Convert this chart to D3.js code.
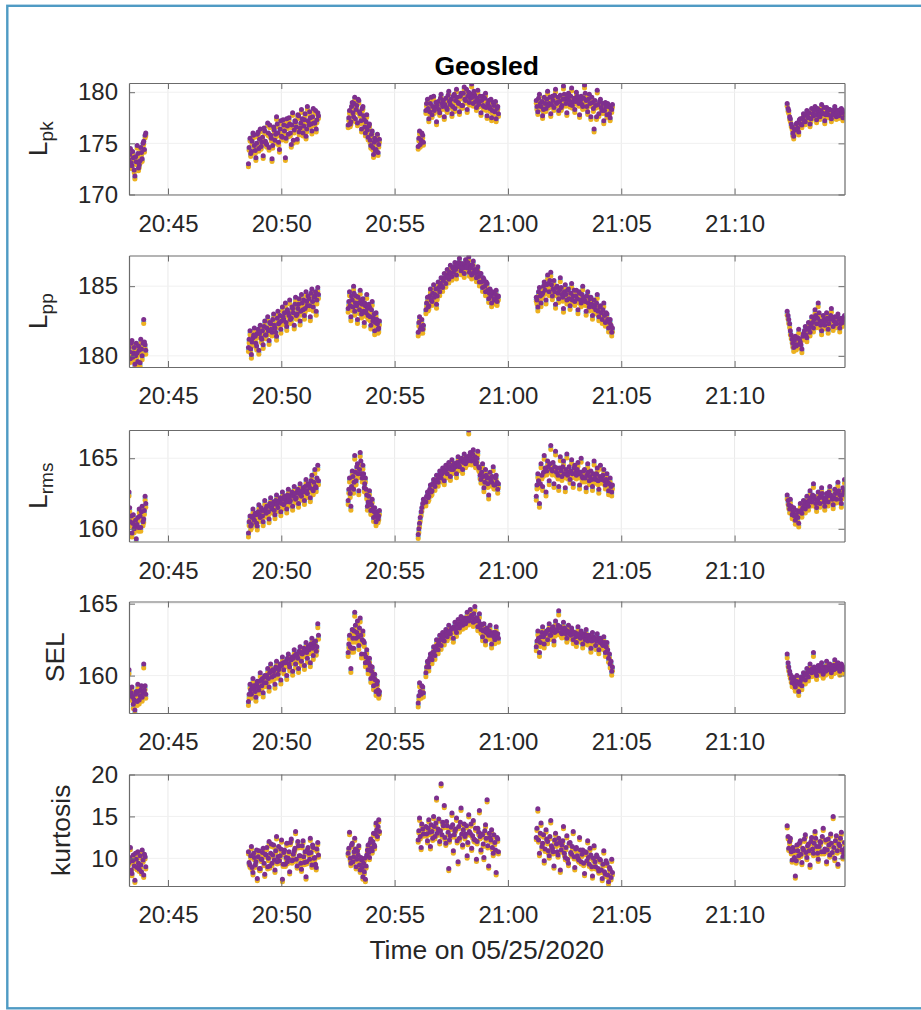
<!DOCTYPE html>
<html>
<head>
<meta charset="utf-8">
<script src="https://cdn.jsdelivr.net/npm/d3@7"></script>
<style>
  body { margin: 0; background: #fff; }
  svg { display: block; font-family: 'Liberation Sans', Arial, Helvetica, sans-serif; }
</style>
</head>
<body>
<div id="chart"></div>
<script>
// sample times, minutes after 20:00 on 05/25/2020
// each recording is listed twice: first the even samples, then the odd ones
const sampleMinutes = [
  43.28, 43.34, 43.41, 43.47, 43.54, 43.60, 43.67, 43.73, 43.80, 43.86, 43.93, 43.99,
  48.55, 48.62, 48.68, 48.75, 48.81, 48.88, 48.94, 49.01, 49.07, 49.14, 49.20, 49.27,
  49.33, 49.40, 49.46, 49.53, 49.59, 49.66, 49.72, 49.79, 49.85, 49.92, 49.98, 50.05,
  50.11, 50.18, 50.24, 50.31, 50.37, 50.44, 50.50, 50.57, 50.63, 50.70, 50.76, 50.83,
  50.89, 50.96, 51.02, 51.09, 51.15, 51.22, 51.28, 51.35, 51.41, 51.48, 51.54, 51.61,
  52.95, 53.01, 53.07, 53.13, 53.19, 53.24, 53.30, 53.36, 53.42, 53.48, 53.54, 53.60,
  53.66, 53.71, 53.77, 53.83, 53.89, 53.95, 54.01, 54.07, 54.12, 54.18, 54.24, 54.30,
  56.04, 56.10, 56.17, 56.24,
  56.38, 56.45, 56.51, 56.58, 56.65, 56.72, 56.78, 56.85, 56.92, 56.99, 57.05, 57.12,
  57.19, 57.26, 57.32, 57.39, 57.46, 57.53, 57.59, 57.66, 57.73, 57.80, 57.86, 57.93,
  58.00, 58.07, 58.13, 58.20, 58.27, 58.34, 58.40, 58.47, 58.54, 58.61, 58.67, 58.74,
  58.81, 58.88, 58.94, 59.01, 59.08, 59.15, 59.21, 59.28, 59.35, 59.42, 59.48, 59.55,
  61.25, 61.32, 61.39, 61.46, 61.53, 61.60, 61.68, 61.75, 61.82, 61.89, 61.96, 62.03,
  62.10, 62.17, 62.24, 62.31, 62.38, 62.45, 62.53, 62.60, 62.67, 62.74, 62.81, 62.88,
  62.95, 63.02, 63.09, 63.16, 63.23, 63.30, 63.38, 63.45, 63.52, 63.59, 63.66, 63.73,
  63.80, 63.87, 63.94, 64.01, 64.08, 64.16, 64.23, 64.30, 64.37, 64.44, 64.51, 64.58,
  72.32, 72.39, 72.46, 72.54, 72.61, 72.68, 72.75, 72.83, 72.90, 72.97, 73.04, 73.12,
  73.19, 73.26, 73.33, 73.40, 73.48, 73.55, 73.62, 73.69, 73.77, 73.84, 73.91, 73.98,
  74.06, 74.13, 74.20, 74.27, 74.35, 74.42, 74.49, 74.56, 74.64, 74.71, 74.78, 74.85,
  // odd samples
  43.31, 43.38, 43.44, 43.51, 43.57, 43.64, 43.70, 43.77, 43.83, 43.90, 43.96, 44.02,
  48.58, 48.65, 48.71, 48.78, 48.85, 48.91, 48.98, 49.04, 49.11, 49.17, 49.24, 49.30,
  49.36, 49.43, 49.49, 49.56, 49.62, 49.69, 49.75, 49.82, 49.88, 49.95, 50.01, 50.08,
  50.14, 50.21, 50.27, 50.34, 50.40, 50.47, 50.53, 50.60, 50.66, 50.73, 50.79, 50.86,
  50.92, 50.99, 51.05, 51.12, 51.18, 51.25, 51.31, 51.38, 51.44, 51.51, 51.57, 51.64,
  52.98, 53.04, 53.10, 53.16, 53.21, 53.27, 53.33, 53.39, 53.45, 53.51, 53.57, 53.63,
  53.68, 53.74, 53.80, 53.86, 53.92, 53.98, 54.04, 54.10, 54.15, 54.21, 54.27, 54.33,
  56.07, 56.13, 56.20, 56.27,
  56.41, 56.48, 56.55, 56.61, 56.68, 56.75, 56.82, 56.88, 56.95, 57.02, 57.09, 57.15,
  57.22, 57.29, 57.36, 57.42, 57.49, 57.56, 57.63, 57.69, 57.76, 57.83, 57.90, 57.96,
  58.03, 58.10, 58.17, 58.23, 58.30, 58.37, 58.44, 58.50, 58.57, 58.64, 58.71, 58.77,
  58.84, 58.91, 58.98, 59.04, 59.11, 59.18, 59.25, 59.31, 59.38, 59.45, 59.52, 59.58,
  61.28, 61.35, 61.43, 61.50, 61.57, 61.64, 61.71, 61.78, 61.85, 61.92, 61.99, 62.06,
  62.14, 62.21, 62.28, 62.35, 62.42, 62.49, 62.56, 62.63, 62.70, 62.77, 62.84, 62.92,
  62.99, 63.06, 63.13, 63.20, 63.27, 63.34, 63.41, 63.48, 63.55, 63.62, 63.70, 63.77,
  63.84, 63.91, 63.98, 64.05, 64.12, 64.19, 64.26, 64.33, 64.40, 64.48, 64.55, 64.61,
  72.36, 72.43, 72.50, 72.57, 72.64, 72.72, 72.79, 72.86, 72.93, 73.01, 73.08, 73.15,
  73.22, 73.29, 73.37, 73.44, 73.51, 73.58, 73.66, 73.73, 73.80, 73.87, 73.95, 74.02,
  74.09, 74.16, 74.24, 74.31, 74.38, 74.45, 74.53, 74.60, 74.67, 74.74, 74.82, 74.88
];

const lpk = [
  173.4, 174.5, 172.8, 173.6, 171.8, 173.2, 174.0, 172.9, 174.6, 173.5, 175.2, 175.8,
  173.0, 175.5, 174.2, 176.0, 174.8, 173.6, 175.9, 174.5, 176.4, 175.1, 173.8, 176.2,
  175.0, 177.0, 174.6, 175.8, 173.5, 176.6, 175.3, 177.6, 176.0, 174.4, 177.2, 175.6,
  176.8, 173.6, 177.4, 175.9, 176.9, 174.9, 178.0, 176.3, 177.1, 175.4, 177.7, 176.5,
  178.3, 176.0, 177.3, 175.7, 178.6, 176.8, 177.5, 176.2, 178.4, 177.0, 176.4, 178.0,
  176.8, 178.2, 177.1, 179.0, 177.6, 179.5, 178.3, 177.0, 179.2, 177.9, 176.4, 178.6,
  177.3, 176.0, 177.8, 175.6, 176.9, 174.8, 176.2, 173.9, 175.5, 174.4, 175.9, 174.9,
  174.7, 176.2, 175.3, 175.8,
  178.2, 179.3, 177.4, 178.9, 177.8, 179.6, 178.5, 177.1, 179.1, 178.0, 179.8, 178.6,
  177.6, 179.4, 178.3, 180.1, 178.8, 177.9, 179.6, 178.4, 180.3, 179.0, 178.1, 179.9,
  178.7, 180.5, 179.2, 178.3, 180.0, 179.4, 180.8, 178.9, 179.7, 178.5, 180.2, 179.1,
  178.0, 179.6, 178.6, 179.9, 177.7, 179.2, 178.4, 177.5, 179.0, 178.1, 177.4, 178.6,
  179.2, 178.1, 179.8, 178.6, 177.7, 179.5, 178.4, 180.1, 178.9, 177.9, 179.6, 178.5,
  180.3, 179.0, 178.2, 179.7, 178.7, 180.6, 179.3, 178.0, 179.9, 178.8, 180.4, 179.1,
  178.3, 180.0, 179.4, 177.8, 179.6, 178.6, 180.7, 179.2, 178.1, 179.8, 177.6, 179.0,
  176.4, 178.7, 180.2, 177.9, 179.3, 178.2, 177.2, 179.0, 177.8, 178.6, 177.5, 178.3,
  178.9, 178.2, 177.4, 176.6, 175.7, 176.3, 177.0, 176.1, 177.4, 176.8, 177.9, 177.1,
  178.2, 177.5, 176.9, 178.4, 177.7, 178.6, 177.3, 178.1, 177.6, 178.8, 177.9, 177.2,
  178.5, 177.8, 178.3, 177.4, 178.0, 178.6, 177.6, 178.2, 177.9, 178.4, 177.5, 178.1,
  // odd samples
  173.9, 173.1, 174.2, 172.4, 173.7, 174.8, 172.6, 173.3, 174.1, 175.0, 174.4, 176.0,
  174.6, 174.0, 175.2, 175.8, 174.3, 175.0, 176.1, 175.4, 174.7, 175.6, 176.5, 175.2,
  174.9, 176.0, 176.8, 175.5, 174.8, 176.3, 175.9, 176.9, 175.1, 176.4, 175.7, 177.3,
  176.2, 175.5, 176.7, 177.5, 176.0, 176.8, 175.3, 177.2, 176.6, 177.8, 176.1, 177.0,
  177.4, 176.7, 177.9, 176.4, 177.2, 178.1, 176.9, 177.6, 177.0, 178.2, 177.3, 177.7,
  177.5, 176.9, 178.6, 178.0, 178.9, 177.4, 178.7, 179.3, 178.1, 177.2, 178.4, 177.7,
  176.6, 177.1, 176.3, 176.7, 175.3, 175.9, 174.6, 175.1, 174.3, 175.3, 174.1, 175.4,
  175.5, 174.9, 176.0, 175.1,
  178.9, 178.4, 178.1, 179.5, 178.6, 178.2, 179.0, 178.7, 178.3, 179.4, 178.9, 179.2,
  178.8, 178.5, 179.7, 179.1, 179.3, 178.6, 179.8, 179.2, 179.5, 178.9, 179.6, 178.7,
  179.9, 179.3, 180.3, 179.6, 179.0, 179.8, 179.5, 180.1, 179.1, 179.4, 178.8, 179.6,
  179.2, 178.7, 179.4, 178.5, 178.9, 178.6, 179.3, 178.2, 178.7, 179.1, 178.4, 177.9,
  178.6, 179.4, 178.9, 179.1, 178.3, 178.9, 179.3, 178.7, 179.5, 178.8, 179.2, 179.7,
  178.9, 179.5, 179.1, 178.5, 179.3, 179.8, 178.9, 179.5, 179.2, 179.6, 178.7, 179.4,
  179.1, 179.6, 178.9, 179.2, 178.8, 179.4, 179.9, 178.6, 179.3, 178.9, 179.5, 178.4,
  179.2, 177.6, 178.8, 179.1, 178.5, 178.9, 178.2, 178.6, 178.9, 177.9, 178.4, 178.8,
  178.4, 177.6, 176.9, 176.0, 176.4, 176.9, 176.5, 177.3, 176.9, 177.5, 177.2, 177.8,
  177.6, 178.0, 177.4, 177.9, 178.2, 177.8, 178.4, 177.7, 178.2, 178.0, 178.5, 177.8,
  178.1, 178.3, 177.7, 178.2, 177.8, 178.3, 178.0, 177.7, 178.3, 178.0, 178.2, 177.8
];

const lpp = [
  180.6, 179.8, 181.1, 180.2, 179.4, 180.9, 179.6, 180.4, 181.2, 180.0, 182.6, 180.8,
  180.6, 181.8, 180.1, 181.3, 182.0, 180.9, 181.6, 180.4, 182.2, 181.2, 180.8, 182.5,
  181.5, 182.8, 181.1, 182.3, 181.7, 183.0, 182.0, 181.4, 183.2, 182.4, 181.9, 183.5,
  182.6, 183.8, 182.1, 183.1, 184.0, 182.7, 183.4, 182.2, 184.2, 183.0, 183.7, 182.5,
  184.4, 183.3, 182.9, 184.6, 183.6, 184.1, 182.8, 184.8, 183.5, 184.3, 183.2, 184.9,
  183.4, 184.6, 182.8, 184.0, 185.0, 183.2, 184.3, 182.6, 183.8, 184.7, 183.0, 184.1,
  182.4, 183.6, 184.4, 182.9, 183.5, 182.2, 183.9, 182.7, 181.8, 183.1, 182.3, 182.0,
  181.7, 182.8, 182.1, 181.9,
  183.3, 184.2, 183.6, 184.8, 183.9, 185.1, 184.4, 183.7, 185.3, 184.6, 185.6, 184.9,
  185.9, 185.2, 186.2, 185.5, 186.5, 185.7, 186.0, 186.7, 185.8, 186.4, 187.0, 186.1,
  186.6, 185.9, 186.9, 186.3, 187.1, 186.5, 185.8, 186.8, 186.2, 185.6, 186.4, 185.3,
  185.9, 184.9, 185.5, 184.6, 185.2, 184.1, 184.8, 183.8, 184.5, 184.0, 184.7, 184.2,
  184.2, 183.5, 184.9, 183.8, 184.5, 185.3, 184.0, 185.8, 184.6, 186.0, 184.3, 185.4,
  183.7, 185.0, 184.1, 185.6, 184.4, 183.4, 185.1, 184.0, 184.8, 183.6, 185.2, 184.3,
  183.9, 184.7, 183.3, 184.5, 183.8, 185.0, 184.0, 183.2, 184.6, 183.5, 184.2, 182.9,
  184.0, 183.3, 184.4, 182.8, 183.6, 182.6, 183.8, 182.4, 183.0, 182.0, 182.6, 181.7,
  183.2, 182.6, 181.8, 181.2, 180.6, 181.4, 180.8, 181.9, 181.0, 180.5, 181.6, 182.1,
  181.3, 182.4, 181.7, 182.8, 182.0, 183.3, 182.3, 183.8, 182.5, 181.8, 182.9, 182.2,
  183.1, 181.9, 182.6, 183.4, 182.1, 182.8, 182.3, 183.0, 182.0, 182.7, 182.4, 182.9,
  // odd samples
  180.3, 180.9, 179.9, 180.6, 180.0, 180.2, 180.7, 179.5, 180.5, 180.9, 181.0, 180.4,
  181.2, 180.5, 181.0, 181.5, 181.4, 180.7, 181.9, 181.6, 181.3, 181.8, 182.1, 181.5,
  182.0, 181.8, 182.4, 181.9, 182.6, 182.2, 181.7, 182.7, 182.3, 182.9, 182.5, 182.8,
  183.1, 182.4, 183.3, 182.9, 182.6, 183.5, 183.1, 183.7, 182.9, 183.4, 184.1, 183.2,
  183.8, 184.0, 183.4, 183.9, 184.3, 183.6, 184.5, 183.9, 184.2, 184.6, 184.0, 184.4,
  183.9, 183.6, 184.3, 183.5, 184.5, 183.8, 183.6, 184.2, 183.3, 184.0, 183.7, 183.2,
  183.8, 183.1, 183.4, 183.7, 182.8, 183.3, 182.5, 183.0, 182.4, 182.6, 181.9, 182.5,
  182.4, 181.9, 182.6, 182.2,
  183.8, 183.5, 184.3, 184.0, 184.5, 184.2, 184.8, 184.3, 184.9, 185.2, 185.0, 185.4,
  185.6, 185.8, 185.7, 186.0, 185.9, 186.3, 186.4, 186.2, 186.5, 186.7, 186.4, 186.6,
  186.3, 186.6, 186.4, 186.7, 186.0, 186.3, 186.5, 186.0, 185.9, 186.1, 185.7, 185.9,
  185.3, 185.6, 185.0, 185.3, 184.7, 184.5, 184.3, 184.6, 184.1, 184.4, 183.9, 184.3,
  184.0, 184.6, 184.3, 184.4, 185.0, 184.7, 185.1, 185.2, 185.4, 185.1, 184.8, 184.6,
  184.9, 184.5, 184.7, 184.9, 184.2, 184.6, 184.4, 184.7, 184.1, 184.5, 184.0, 184.7,
  184.3, 184.1, 184.6, 184.0, 184.4, 184.2, 183.9, 184.3, 183.8, 184.1, 183.7, 183.5,
  183.6, 183.8, 183.2, 183.5, 183.1, 183.3, 182.9, 183.1, 182.6, 182.4, 182.2, 182.0,
  182.9, 182.3, 181.5, 180.9, 181.1, 180.7, 181.3, 181.2, 180.8, 181.4, 181.8, 181.5,
  181.9, 182.0, 182.2, 182.4, 182.6, 182.9, 182.7, 183.1, 182.2, 182.4, 182.6, 182.5,
  182.7, 182.3, 182.9, 182.7, 182.5, 182.4, 182.8, 182.6, 182.3, 182.5, 182.7, 182.6
];

const lrms = [
  162.6, 160.5, 159.7, 161.0, 160.2, 159.3, 160.8, 161.4, 160.1, 161.6, 160.7, 162.3,
  159.7, 160.9, 160.3, 161.4, 160.6, 161.0, 160.2, 161.7, 160.8, 161.3, 160.5, 162.0,
  161.1, 161.6, 160.7, 162.2, 161.4, 161.9, 161.0, 162.4, 161.5, 162.0, 161.2, 162.6,
  161.7, 162.1, 161.4, 162.8, 161.9, 162.4, 161.6, 163.0, 162.1, 162.6, 161.8, 163.2,
  162.3, 162.9, 162.0, 163.5, 162.5, 163.1, 162.2, 163.8, 162.7, 164.2, 162.9, 164.5,
  162.0, 163.6, 161.6, 164.1, 162.8, 165.2, 163.4, 164.6, 162.7, 165.4, 163.9, 164.5,
  162.9, 163.6, 162.4, 161.9, 162.7, 161.3, 162.1, 160.8, 161.5, 160.5, 161.2, 160.9,
  159.6, 160.4, 161.2, 161.8,
  161.9, 162.6, 162.3, 163.1, 162.7, 163.5, 163.0, 163.8, 163.3, 164.1, 163.6, 164.3,
  163.4, 164.5, 163.9, 164.7, 163.7, 164.9, 164.2, 164.6, 163.9, 165.1, 164.4, 164.8,
  164.2, 165.3, 164.6, 165.0, 167.0, 165.4, 164.8, 165.6, 165.1, 164.7, 165.5, 164.3,
  163.5, 164.6, 162.9, 164.2, 163.6, 162.4, 164.0, 163.3, 164.4, 163.1, 163.8, 162.8,
  162.3, 163.9, 161.8, 164.6, 163.0, 165.2, 162.6, 164.8, 163.4, 165.9, 164.1, 163.2,
  165.5, 164.3, 163.0, 165.1, 163.7, 164.8, 162.9, 165.3, 164.0, 163.5, 164.9, 163.2,
  164.5, 163.8, 164.7, 163.1, 165.0, 163.6, 164.2, 162.9, 164.6, 163.4, 164.1, 163.0,
  164.8, 163.5, 164.3, 162.8, 164.5, 163.7, 164.2, 163.1, 163.9, 162.7, 163.6, 162.6,
  162.4, 161.7, 162.1, 161.0, 161.5, 160.6, 161.3, 160.4, 161.8, 161.1, 162.0, 161.4,
  162.3, 161.6, 162.7, 161.9, 163.2, 162.1, 161.5, 162.6, 161.8, 162.9, 162.2, 161.6,
  162.5, 161.9, 163.0, 162.3, 161.7, 162.8, 162.1, 163.3, 162.4, 161.8, 162.9, 163.5,
  // odd samples
  161.5, 160.9, 160.4, 160.0, 160.6, 160.3, 160.1, 160.9, 161.2, 160.5, 161.3, 161.8,
  160.5, 160.2, 160.8, 160.9, 161.1, 160.4, 161.2, 161.0, 161.5, 160.9, 161.3, 161.4,
  161.6, 161.2, 161.8, 161.5, 161.7, 161.3, 162.0, 161.7, 161.9, 162.2, 161.8, 162.1,
  162.3, 161.9, 162.4, 162.2, 162.0, 162.6, 162.3, 162.5, 162.2, 162.8, 162.5, 162.4,
  162.7, 162.6, 163.0, 162.7, 163.2, 162.9, 163.4, 162.8, 163.3, 163.0, 163.6, 163.4,
  162.8, 162.5, 163.0, 163.7, 163.3, 164.0, 164.4, 163.9, 164.2, 164.8, 163.6, 163.9,
  163.2, 162.8, 161.6, 162.3, 161.9, 161.7, 161.4, 161.2, 160.9, 161.0, 160.7, 161.3,
  160.0, 160.8, 161.5, 162.1,
  162.3, 162.2, 162.8, 162.6, 163.2, 163.1, 163.4, 163.5, 163.7, 163.9, 163.9, 164.0,
  164.1, 164.2, 164.3, 164.4, 164.2, 164.5, 164.6, 164.4, 164.7, 164.5, 164.8, 165.0,
  164.7, 164.9, 165.1, 164.8, 165.2, 165.0, 165.3, 164.9, 164.6, 165.0, 164.4, 163.8,
  164.0, 163.7, 163.3, 163.8, 163.2, 163.6, 163.4, 163.7, 163.1, 163.6, 163.3, 163.2,
  163.1, 163.4, 163.2, 163.8, 164.0, 164.3, 164.1, 164.4, 164.6, 164.2, 164.7, 164.4,
  164.0, 163.8, 164.3, 164.1, 164.4, 163.9, 164.2, 163.8, 164.4, 164.1, 163.9, 164.3,
  164.0, 164.2, 163.9, 164.0, 163.7, 164.1, 163.6, 163.8, 164.0, 163.7, 163.5, 163.9,
  163.6, 163.9, 163.4, 163.7, 163.5, 163.8, 163.4, 163.5, 163.3, 163.2, 163.0, 163.1,
  162.0, 161.4, 161.6, 161.2, 160.9, 161.0, 160.8, 161.2, 161.3, 161.5, 161.7, 161.9,
  161.8, 162.0, 162.2, 162.4, 162.3, 161.8, 162.0, 162.2, 162.4, 162.5, 161.9, 162.1,
  162.3, 162.6, 162.4, 162.1, 162.2, 162.5, 162.6, 162.7, 162.1, 162.4, 162.6, 162.8
];

const sel = [
  160.4, 158.6, 159.2, 158.0, 157.6, 158.9, 159.4, 158.3, 159.0, 158.5, 160.8, 159.3,
  158.2, 159.4, 158.7, 159.8, 159.1, 158.5, 159.6, 159.0, 160.2, 159.3, 158.8, 160.0,
  159.5, 160.5, 159.2, 160.8, 159.9, 160.3, 159.4, 161.0, 160.1, 160.6, 159.7, 161.3,
  160.4, 160.9, 160.0, 161.5, 160.6, 161.1, 160.3, 161.8, 160.8, 161.4, 160.5, 162.0,
  161.0, 161.6, 160.7, 162.3, 161.2, 161.8, 160.9, 162.6, 161.4, 162.1, 161.7, 163.6,
  161.6, 162.8, 160.5, 163.2, 161.9, 164.4, 162.6, 163.8, 162.1, 164.0, 161.5, 163.1,
  162.3, 160.9, 161.8, 160.4, 161.2, 159.8, 160.6, 159.3, 160.1, 158.9, 159.6, 158.7,
  158.1, 159.5, 158.7, 159.2,
  160.2, 161.0, 160.6, 161.5, 161.1, 162.0, 161.4, 162.5, 161.8, 162.8, 162.1, 163.0,
  162.4, 163.2, 162.7, 163.5, 162.9, 163.3, 162.6, 163.7, 163.0, 163.9, 163.3, 164.1,
  163.5, 164.0, 163.6, 164.4, 163.8, 164.6, 164.2, 163.7, 164.8, 164.0, 163.4, 164.3,
  163.2, 162.7, 163.6, 162.4, 163.3, 162.8, 163.5, 162.2, 163.0, 162.5, 163.4, 162.9,
  162.0, 163.1, 161.6, 162.7, 163.4, 162.2, 163.0, 162.5, 163.6, 162.8, 163.3, 162.4,
  163.8, 163.1, 164.5, 163.4, 162.9, 163.7, 163.2, 162.6, 163.5, 162.9, 163.3, 162.5,
  163.0, 162.3, 163.4, 162.7, 163.1, 162.2, 162.9, 163.2, 162.4, 162.8, 161.9, 163.0,
  162.5, 162.1, 162.9, 161.8, 162.6, 162.2, 162.7, 161.6, 162.3, 161.2, 160.8, 160.3,
  161.5, 160.6, 160.1, 159.5, 159.8, 159.2, 160.0, 158.9, 159.6, 159.3, 160.2, 159.7,
  160.5, 159.9, 160.8, 160.2, 161.6, 160.4, 160.0, 160.7, 160.3, 160.9, 160.1, 160.6,
  161.0, 160.4, 160.8, 160.2, 160.7, 161.1, 160.5, 160.9, 160.3, 160.8, 160.6, 160.4,
  // odd samples
  159.1, 158.8, 158.5, 158.3, 158.7, 158.2, 158.9, 158.6, 159.3, 158.8, 159.0, 158.7,
  158.7, 159.0, 159.2, 159.3, 158.9, 159.4, 159.2, 159.6, 159.7, 159.8, 159.5, 159.9,
  160.0, 159.8, 160.2, 160.3, 160.4, 160.0, 160.6, 160.5, 160.4, 160.8, 160.7, 160.9,
  160.9, 161.0, 161.2, 160.8, 161.1, 161.3, 161.2, 161.4, 161.5, 161.2, 161.7, 161.6,
  161.5, 161.9, 161.8, 161.6, 162.0, 162.1, 162.2, 161.9, 162.3, 162.4, 162.0, 162.8,
  162.2, 162.0, 161.9, 162.6, 163.1, 163.5, 163.0, 162.7, 163.3, 162.8, 162.5, 162.4,
  161.5, 161.3, 161.0, 160.9, 160.7, 160.3, 160.0, 159.8, 159.7, 159.4, 159.0, 158.9,
  158.6, 158.9, 159.3, 158.8,
  160.6, 160.9, 161.2, 161.3, 161.6, 161.7, 162.0, 162.1, 162.3, 162.5, 162.6, 162.7,
  162.8, 162.9, 163.0, 163.1, 163.2, 163.3, 163.4, 163.2, 163.5, 163.6, 163.5, 163.8,
  163.7, 163.6, 163.9, 164.0, 163.9, 164.1, 164.0, 164.3, 163.8, 164.0, 163.8, 163.6,
  163.5, 163.1, 163.2, 163.0, 162.9, 163.1, 162.8, 162.9, 162.7, 163.0, 162.8, 162.6,
  162.4, 162.6, 162.3, 163.0, 162.7, 162.9, 163.1, 163.2, 162.8, 163.1, 163.4, 163.0,
  163.2, 163.5, 163.3, 163.0, 163.1, 163.3, 162.9, 163.1, 163.0, 162.8, 163.1, 162.9,
  162.7, 162.9, 162.8, 162.6, 162.9, 162.7, 162.5, 162.8, 162.7, 162.6, 162.4, 162.7,
  162.6, 162.4, 162.6, 162.3, 162.4, 162.1, 162.3, 162.0, 161.8, 161.5, 161.0, 160.6,
  160.9, 160.3, 159.8, 159.9, 159.4, 159.6, 159.5, 159.4, 159.9, 159.8, 160.0, 160.1,
  160.2, 160.3, 160.4, 160.5, 160.6, 160.2, 160.4, 160.5, 160.7, 160.4, 160.5, 160.3,
  160.6, 160.7, 160.5, 160.6, 160.4, 160.7, 160.8, 160.6, 160.5, 160.7, 160.5, 160.6
];

const kurtosis = [
  9.5, 11.3, 8.2, 10.4, 7.4, 9.9, 10.8, 8.7, 9.2, 11.0, 8.0, 10.2,
  10.8, 9.2, 11.4, 8.3, 10.1, 9.6, 7.6, 10.9, 8.8, 9.9, 11.2, 8.1,
  10.4, 9.0, 12.0, 10.6, 9.4, 11.6, 8.6, 12.6, 10.2, 9.7, 11.1, 7.5,
  10.7, 9.3, 11.8, 10.0, 8.4, 12.3, 9.8, 10.9, 13.2, 9.1, 11.5, 10.3,
  8.7, 12.1, 9.5, 7.8, 11.0, 10.6, 12.4, 9.2, 11.3, 10.1, 8.9, 11.9,
  10.6, 13.1, 9.4, 11.8, 10.2, 12.4, 9.0, 10.9, 11.5, 8.6, 9.8, 7.8,
  8.4, 7.5, 10.4, 11.6, 10.1, 12.3, 10.9, 13.0, 11.4, 14.2, 12.6, 14.6,
  12.2, 14.8, 11.3, 13.5,
  13.8, 12.1, 14.6, 11.4, 13.2, 15.0, 12.6, 17.2, 13.5, 12.0, 18.9, 14.3,
  16.3, 11.8, 13.9, 8.8, 12.7, 15.4, 10.9, 13.3, 14.8, 9.6, 12.4, 16.0,
  11.6, 14.1, 12.9, 10.3, 15.2, 13.0, 11.2, 14.5, 12.2, 9.9, 13.6, 15.7,
  11.0, 12.8, 10.1, 14.0, 17.0, 9.1, 12.5, 13.4, 10.6, 11.9, 8.3, 12.3,
  12.5, 15.9, 10.6, 14.2, 11.8, 9.7, 13.4, 12.0, 10.3, 14.5, 11.2, 9.1,
  13.0, 10.8, 12.4, 8.6, 11.6, 13.8, 10.1, 12.7, 9.4, 11.9, 10.5, 13.2,
  8.9, 11.3, 10.0, 12.5, 9.6, 11.0, 8.2, 10.7, 12.1, 9.3, 10.4, 7.9,
  11.5, 9.0, 10.2, 8.5, 9.8, 7.6, 10.9, 8.1, 9.4, 7.2, 8.7, 9.9,
  13.9, 11.2, 12.4, 9.8, 10.9, 7.9, 11.6, 10.3, 12.1, 9.5, 11.0, 12.8,
  10.1, 11.7, 9.2, 12.5, 10.6, 13.2, 11.4, 9.9, 12.0, 10.8, 13.6, 11.1,
  9.6, 12.3, 10.4, 11.8, 15.0, 10.0, 12.7, 9.3, 11.5, 13.1, 10.2, 11.9,
  // odd samples
  10.1, 8.6, 9.7, 9.1, 10.6, 8.9, 9.4, 10.3, 8.4, 9.8, 10.5, 9.0,
  9.5, 10.3, 8.9, 10.6, 9.2, 11.0, 10.2, 8.8, 9.9, 10.7, 9.4, 10.5,
  11.3, 10.0, 9.1, 11.7, 10.4, 9.8, 10.9, 9.6, 11.4, 10.3, 12.2, 9.3,
  11.0, 10.1, 9.6, 10.8, 11.9, 9.7, 10.5, 11.2, 9.9, 12.0, 10.3, 9.4,
  11.5, 10.2, 10.8, 9.6, 11.3, 9.9, 10.7, 11.6, 10.0, 9.3, 11.1, 10.4,
  11.2, 10.0, 11.6, 9.6, 10.8, 11.1, 9.9, 10.4, 9.2, 10.1, 8.9, 9.4,
  10.0, 9.1, 11.0, 10.7, 11.9, 11.2, 12.0, 11.6, 12.9, 13.4, 13.8, 13.2,
  13.3, 12.6, 14.1, 12.9,
  12.9, 13.6, 13.1, 14.0, 12.4, 13.8, 14.2, 13.0, 14.7, 13.3, 12.8, 13.9,
  12.5, 14.4, 13.1, 12.2, 13.7, 14.0, 12.8, 13.5, 12.1, 13.8, 14.3, 12.9,
  13.4, 12.6, 13.9, 11.9, 13.2, 14.1, 12.7, 12.3, 13.6, 12.0, 13.1, 12.6,
  12.9, 11.7, 13.3, 12.4, 11.5, 13.0, 12.2, 11.3, 12.8, 11.0, 12.5, 10.8,
  13.6, 12.2, 13.0, 11.4, 12.8, 11.1, 12.3, 10.9, 12.6, 11.5, 10.8, 12.2,
  11.7, 10.4, 11.9, 11.0, 12.1, 10.6, 11.3, 9.9, 11.8, 10.7, 11.4, 10.2,
  11.1, 10.3, 9.8, 11.0, 10.5, 9.4, 10.8, 9.7, 10.1, 11.2, 9.0, 10.0,
  9.6, 10.4, 8.8, 9.9, 8.6, 9.3, 8.4, 9.7, 8.0, 8.9, 7.7, 8.3,
  12.6, 12.0, 10.8, 11.3, 10.1, 9.7, 10.9, 11.8, 10.5, 11.2, 12.3, 10.7,
  11.5, 10.9, 12.0, 11.1, 11.8, 12.4, 10.6, 11.4, 11.9, 12.6, 10.8, 12.2,
  11.0, 11.6, 12.9, 10.7, 11.3, 12.1, 10.9, 11.7, 12.4, 11.0, 10.6, 11.2
];

// hydrophone channels: small level differences between them, purple drawn on top
const channelColors = ['#4DBEEE', '#EDB120', '#7E2F8E'];
const channelOffsets = [-0.14, -0.28, 0];

const panelLabels = ['pk', 'pp', 'rms', 'SEL', 'kurtosis'];
const yLimits = [[170, 180.9], [179.2, 187.2], [159.1, 167], [157.4, 165.15], [6.7, 20]];
const yTicks = [[170, 175, 180], [180, 185], [160, 165], [160, 165], [10, 15, 20]];
const xLimits = [43.28, 74.85];
const timeTicks = ['20:45', '20:50', '20:55', '21:00', '21:05', '21:10'];

const series = [lpk, lpp, lrms, sel, kurtosis];
series.forEach((s, i) => {
  if (s.length !== sampleMinutes.length) {
    throw new Error('series ' + i + ' has ' + s.length + ' values, expected ' + sampleMinutes.length);
  }
});

const width = 921;
const height = 1010;
const plotLeft = 129;
const plotRight = 844.5;
const panelTops = [83, 255.5, 430, 601.5, 774.5];
const panelHeight = 111.5;
const labelX = [47, 47, 47, 64, 70];

const base = new Date(2020, 4, 25, 20, 0, 0);
const toDate = (m) => new Date(base.getTime() + m * 60000);
const tickDates = timeTicks.map((t) => {
  const [h, m] = t.split(':');
  return new Date(2020, 4, 25, +h, +m, 0);
});

const x = d3.scaleTime().domain(xLimits.map(toDate)).range([plotLeft, plotRight]);

const svg = d3.select('#chart').append('svg').attr('width', width).attr('height', height);

// outer frame
svg
  .append('rect')
  .attr('x', 7.3)
  .attr('y', 5.8)
  .attr('width', 940)
  .attr('height', 1002.5)
  .attr('fill', 'none')
  .attr('stroke', '#4f9bc4')
  .attr('stroke-width', 2.4);

series.forEach((values, i) => {
  const top = panelTops[i];
  const bottom = top + panelHeight;
  const y = d3.scaleLinear().domain(yLimits[i]).range([bottom, top]);
  const g = svg.append('g');

  //grid
  g.selectAll('.vgrid')
    .data(tickDates)
    .enter()
    .append('line')
    .attr('x1', (d) => x(d))
    .attr('x2', (d) => x(d))
    .attr('y1', top)
    .attr('y2', bottom)
    .attr('stroke', '#e9e9e9')
    .attr('stroke-width', 1);

  g.selectAll('.hgrid')
    .data(yTicks[i])
    .enter()
    .append('line')
    .attr('x1', plotLeft)
    .attr('x2', plotRight)
    .attr('y1', (d) => y(d))
    .attr('y2', (d) => y(d))
    .attr('stroke', '#f0f0f0')
    .attr('stroke-width', 1);

  //points
  svg
    .append('clipPath')
    .attr('id', 'clip' + i)
    .append('rect')
    .attr('x', plotLeft)
    .attr('y', top)
    .attr('width', plotRight - plotLeft)
    .attr('height', panelHeight);

  const pts = g.append('g').attr('clip-path', 'url(#clip' + i + ')');
  channelColors.forEach((color, c) => {
    pts
      .append('g')
      .selectAll('circle')
      .data(sampleMinutes)
      .enter()
      .append('circle')
      .attr('cx', (d) => x(toDate(d)))
      .attr('cy', (d, j) => y(values[j] + channelOffsets[c]))
      .attr('r', 2.5)
      .attr('fill', color);
  });

  //axes, ticks point inward like the original
  const axes = [
    g.append('g').attr('transform', 'translate(0,' + bottom + ')')
      .call(d3.axisBottom(x).tickValues(tickDates).tickFormat(d3.timeFormat('%H:%M'))
        .tickSizeInner(-6).tickSizeOuter(0).tickPadding(20)),
    g.append('g').attr('transform', 'translate(0,' + top + ')')
      .call(d3.axisTop(x).tickValues(tickDates).tickFormat('').tickSizeInner(-6).tickSizeOuter(0)),
    g.append('g').attr('transform', 'translate(' + plotLeft + ',0)')
      .call(d3.axisLeft(y).tickValues(yTicks[i]).tickFormat(d3.format('d'))
        .tickSizeInner(-6).tickSizeOuter(0).tickPadding(11)),
    g.append('g').attr('transform', 'translate(' + plotRight + ',0)')
      .call(d3.axisRight(y).tickValues(yTicks[i]).tickFormat('').tickSizeInner(-6).tickSizeOuter(0)),
  ];
  axes.forEach((a) => {
    a.attr('font-family', null).attr('font-size', null);
    a.select('.domain').attr('stroke', '#6b6b6b').attr('stroke-width', 1.2);
    a.selectAll('.tick line').attr('stroke', '#6b6b6b');
    a.selectAll('.tick text').attr('fill', '#262626').style('font-size', '24px');
  });

  //y label
  const label = g
    .append('text')
    .attr('transform', 'translate(' + labelX[i] + ',' + (top + panelHeight / 2) + ') rotate(-90)')
    .attr('text-anchor', 'middle')
    .attr('fill', '#262626')
    .style('font-size', '26.5px');
  if (i < 3) {
    label.append('tspan').text('L');
    label.append('tspan').attr('dy', '0.3em').style('font-size', '19px').text(panelLabels[i]);
  } else {
    label.text(panelLabels[i]);
  }
});

//title
svg
  .append('text')
  .text('Geosled')
  .attr('x', (plotLeft + plotRight) / 2)
  .attr('y', 75)
  .attr('text-anchor', 'middle')
  .attr('font-weight', 'bold')
  .attr('fill', '#000')
  .style('font-size', '26.5px');

//x axis label
svg
  .append('text')
  .text('Time on 05/25/2020')
  .attr('x', (plotLeft + plotRight) / 2)
  .attr('y', 959)
  .attr('text-anchor', 'middle')
  .attr('fill', '#262626')
  .style('font-size', '26.5px');
</script>
</body>
</html>
